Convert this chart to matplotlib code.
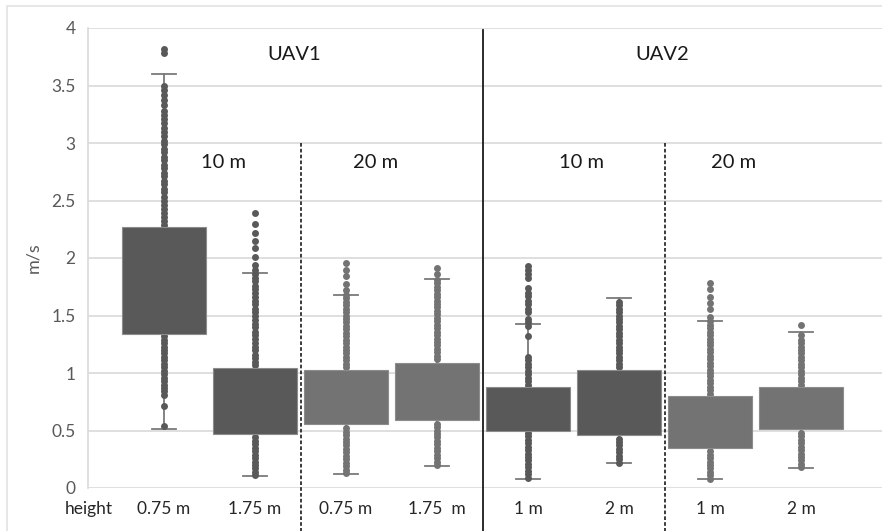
import matplotlib
matplotlib.use('Agg')
import matplotlib.pyplot as plt
import matplotlib.transforms as mtransforms
from matplotlib.patches import Rectangle

plt.rcParams['font.family'] = ['Lato', 'DejaVu Sans']

# categories (left to right)
labels = ['0.75 m', '1.75 m', '0.75 m', '1.75  m', '1 m', '2 m', '1 m', '2 m']

# box statistics (m/s)
q1 = [1.34, 0.47, 0.555, 0.59, 0.50, 0.46, 0.345, 0.51]
q3 = [2.27, 1.045, 1.025, 1.09, 0.88, 1.025, 0.80, 0.875]
med = [1.75, 0.70, 0.78, 0.82, 0.66, 0.70, 0.55, 0.68]   # median line not visible, estimated
whislo = [0.51, 0.105, 0.125, 0.195, 0.08, 0.215, 0.08, 0.175]
whishi = [3.60, 1.87, 1.68, 1.815, 1.43, 1.655, 1.455, 1.36]

# individual points drawn outside the boxes
pts_uav1_10_075 = [0.54, 0.71, 0.81, 0.84, 0.87, 0.90, 0.93, 0.96, 0.99, 1.02, 1.05, 1.08,
                   1.11, 1.14, 1.17, 1.20, 1.23, 1.26, 1.29, 1.32,
                   2.29, 2.32, 2.36, 2.39, 2.43, 2.46, 2.50, 2.53, 2.57, 2.60, 2.64, 2.67,
                   2.71, 2.74, 2.78, 2.81, 2.85, 2.88, 2.92, 2.95, 2.99, 3.02, 3.06, 3.10,
                   3.13, 3.17, 3.21, 3.24, 3.28, 3.33, 3.37, 3.42, 3.46, 3.50, 3.78, 3.82]
pts_uav1_10_175 = [0.11, 0.14, 0.17, 0.20, 0.23, 0.26, 0.29, 0.32, 0.35, 0.38, 0.41, 0.44,
                   1.07, 1.10, 1.13, 1.16, 1.20, 1.23, 1.26, 1.30, 1.33, 1.36, 1.40, 1.43,
                   1.46, 1.50, 1.53, 1.56, 1.60, 1.63, 1.66, 1.70, 1.73, 1.76, 1.80, 1.83,
                   1.86, 1.90, 1.94, 2.01, 2.09, 2.15, 2.22, 2.30, 2.39]
pts_uav1_20_075 = [0.13, 0.16, 0.19, 0.22, 0.25, 0.28, 0.31, 0.34, 0.37, 0.40, 0.43, 0.46,
                   0.49, 0.52,
                   1.05, 1.08, 1.11, 1.14, 1.17, 1.20, 1.23, 1.26, 1.29, 1.32, 1.35, 1.38,
                   1.41, 1.44, 1.47, 1.50, 1.53, 1.56, 1.59, 1.62, 1.65, 1.68, 1.72, 1.77,
                   1.84, 1.90, 1.96]
pts_uav1_20_175 = [0.20, 0.23, 0.26, 0.29, 0.32, 0.35, 0.38, 0.41, 0.44, 0.47, 0.50, 0.53,
                   0.56,
                   1.12, 1.15, 1.18, 1.21, 1.24, 1.27, 1.30, 1.33, 1.36, 1.39, 1.42, 1.45,
                   1.48, 1.51, 1.54, 1.57, 1.60, 1.63, 1.66, 1.69, 1.72, 1.75, 1.78, 1.81,
                   1.86, 1.91]
pts_uav2_10_1 = [0.09, 0.12, 0.15, 0.18, 0.21, 0.24, 0.27, 0.30, 0.33, 0.36, 0.39, 0.42,
                 0.45, 0.48,
                 0.90, 0.93, 0.96, 0.99, 1.02, 1.05, 1.08, 1.11, 1.14, 1.32, 1.41, 1.44,
                 1.47, 1.53, 1.56, 1.60, 1.63, 1.67, 1.70, 1.74, 1.83, 1.86, 1.90, 1.93]
pts_uav2_10_2 = [0.22, 0.25, 0.28, 0.31, 0.34, 0.37, 0.40, 0.43,
                 1.05, 1.08, 1.11, 1.14, 1.17, 1.20, 1.23, 1.26, 1.29, 1.32, 1.35, 1.38,
                 1.41, 1.44, 1.47, 1.50, 1.53, 1.56, 1.59, 1.62]
pts_uav2_20_1 = [0.08, 0.11, 0.14, 0.17, 0.20, 0.23, 0.26, 0.29, 0.32,
                 0.82, 0.85, 0.88, 0.91, 0.94, 0.97, 1.00, 1.03, 1.06, 1.09, 1.12, 1.15,
                 1.18, 1.21, 1.24, 1.27, 1.30, 1.33, 1.36, 1.39, 1.42, 1.45, 1.49, 1.56,
                 1.61, 1.66, 1.73, 1.78]
pts_uav2_20_2 = [0.18, 0.21, 0.24, 0.27, 0.30, 0.33, 0.36, 0.39, 0.42, 0.45, 0.48,
                 0.90, 0.93, 0.96, 0.99, 1.02, 1.05, 1.08, 1.11, 1.14, 1.17, 1.20, 1.23,
                 1.26, 1.29, 1.33, 1.42]

points = [pts_uav1_10_075, pts_uav1_10_175, pts_uav1_20_075, pts_uav1_20_175,
          pts_uav2_10_1, pts_uav2_10_2, pts_uav2_20_1, pts_uav2_20_2]

dark = '#595959'
light = '#737373'
colors = [dark, dark, light, light, dark, dark, light, light]
grid_c = '#d9d9d9'

fig = plt.figure(figsize=(8.82, 5.31), dpi=100)
W, H = 882, 531
ax = fig.add_axes([88 / W, (H - 488) / H, (W - 88) / W, 460 / H])

# light outer frame of the chart object
fig.patches.append(Rectangle((7 / W, -0.1), 1.2, (H - 6) / H + 0.1, transform=fig.transFigure,
                             fill=False, edgecolor='#e3e3e3', linewidth=1.2, zorder=0))

stats = []
for i in range(len(labels)):
    stats.append(dict(q1=q1[i], q3=q3[i], med=med[i], whislo=whislo[i], whishi=whishi[i], fliers=[]))

pos = list(range(len(labels)))
bp = ax.bxp(stats, positions=pos, widths=0.93, patch_artist=True, showfliers=False,
            capwidths=0.27, manage_ticks=False,
            whiskerprops=dict(color='#7a7a7a', linewidth=1.3),
            capprops=dict(color='#7a7a7a', linewidth=1.3),
            medianprops=dict(linewidth=0),
            boxprops=dict(linewidth=0.8))
for patch, c in zip(bp['boxes'], colors):
    patch.set_facecolor(c)
    patch.set_edgecolor('#8c8c8c')
    patch.set_zorder(4)

for i, vals in enumerate(points):
    ax.plot([pos[i]] * len(vals), vals, 'o', color=colors[i], markersize=5,
            markeredgewidth=0, zorder=3)

ax.set_ylim(0, 4)
ax.set_xlim((88 - 164) / 91, (882 - 164) / 91)
ax.set_yticks([0, 0.5, 1, 1.5, 2, 2.5, 3, 3.5, 4])
ax.set_yticklabels(['0', '0.5', '1', '1.5', '2', '2.5', '3', '3.5', '4'])
ax.yaxis.grid(True, color=grid_c, linewidth=1.2)
ax.set_axisbelow(True)
ax.tick_params(axis='y', length=0, pad=9, labelsize=12.5, labelcolor=dark)
ax.set_xticks(pos)
ax.set_xticklabels(labels)
ax.tick_params(axis='x', length=0, pad=9, labelsize=12.5, labelcolor='#262626')
for s in ['top', 'right', 'bottom']:
    ax.spines[s].set_visible(False)
ax.spines['left'].set_color(grid_c)
ax.spines['left'].set_linewidth(1.2)

trans = mtransforms.blended_transform_factory(ax.transData, ax.transAxes)
ax.text((89 - 164) / 91, -21 / 460, 'height', transform=trans, ha='center', va='center',
        fontsize=12.5, color='#262626')

# separators
ax.plot([3.5, 3.5], [3.98, -0.38], color='#1a1a1a', linewidth=1.3, clip_on=False, zorder=5)
for xs in [1.5, 5.5]:
    ax.plot([xs, xs], [3.0, -0.38], color='#1a1a1a', linewidth=1.2, linestyle=(0, (2.2, 1.3)),
            clip_on=False, zorder=5)

# group labels
ax.text(1.43, 3.77, 'UAV1', ha='center', va='center', fontsize=14.5, color='#1a1a1a')
ax.text(5.47, 3.77, 'UAV2', ha='center', va='center', fontsize=14.5, color='#1a1a1a')
for xt in [0.65, 2.33, 4.59, 6.26]:
    ax.text(xt, 2.83, '10 m' if xt in (0.65, 4.59) else '20 m', ha='center', va='center',
            fontsize=14.5, color='#1a1a1a')

fig.text(33 / W, 1 - 258 / H, 'm/s', rotation=90, ha='center', va='center',
         fontsize=13, color=dark)

plt.savefig('out.png', dpi=100)
